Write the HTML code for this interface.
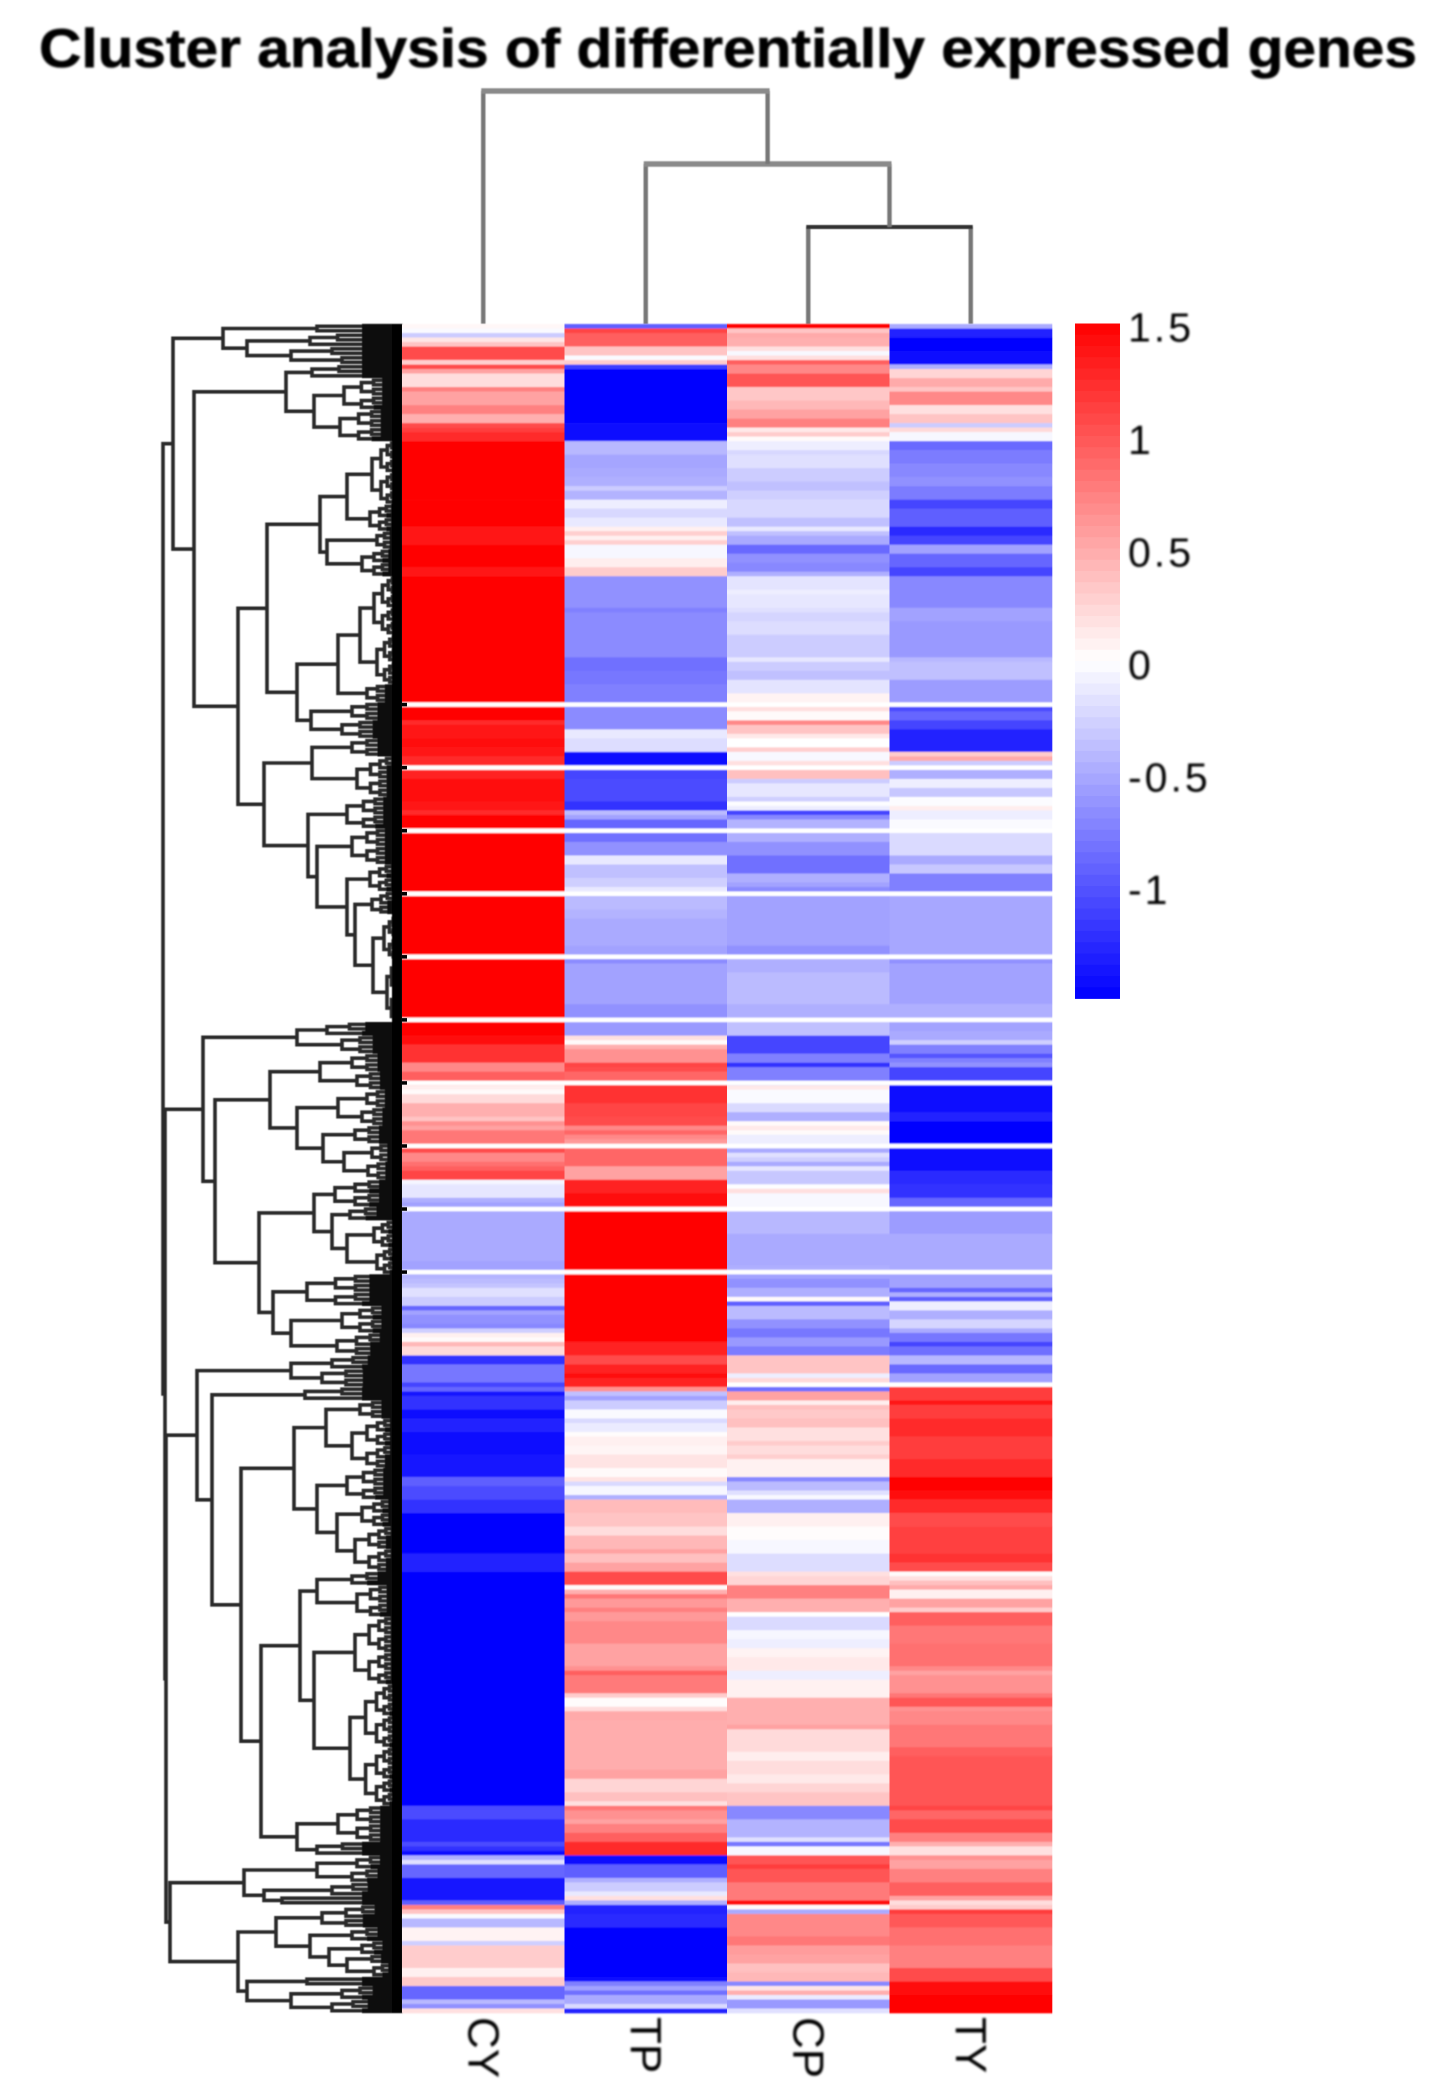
<!DOCTYPE html>
<html lang="en">
<head>
<meta charset="utf-8">
<title>Cluster analysis of differentially expressed genes</title>
<style>
html,body{margin:0;padding:0;background:#fff;}
svg{display:block;font-family:"Liberation Sans",sans-serif;}
</style>
</head>
<body>
<svg id="chart" xmlns="http://www.w3.org/2000/svg" width="1450" height="2093" viewBox="0 0 1450 2093">
  <defs>
    <filter id="soft" x="-2%" y="-5%" width="104%" height="110%"><feGaussianBlur stdDeviation="1"/></filter>
    <filter id="softer" x="-2%" y="-2%" width="104%" height="104%"><feGaussianBlur stdDeviation="0.6"/></filter>
    <filter id="bandblur" x="-1%" y="-1%" width="102%" height="102%"><feGaussianBlur stdDeviation="0 0.8"/></filter>
  </defs>
  <rect x="0" y="0" width="1450" height="2093" fill="#fff"/>
  <text x="39" y="67" font-size="55" font-weight="700" fill="#000" stroke="#000" stroke-width="0.6" textLength="1378" lengthAdjust="spacingAndGlyphs" filter="url(#soft)">Cluster analysis of differentially expressed genes</text>
  <g id="column-dendrogram" filter="url(#softer)"></g>
  <g id="row-dendrogram" filter="url(#softer)"></g>
  <g id="heatmap" filter="url(#bandblur)"></g>
  <g id="heatmap-ticks"></g>
  <g id="column-labels" filter="url(#soft)"></g>
  <g id="colorbar"></g>
  <g id="colorbar-labels" filter="url(#soft)"></g>
</svg>
<script>
const categories = ['CY', 'TP', 'CP', 'TY'];
const legendTicks = ['1.5', '1', '0.5', '0', '-0.5', '-1'];
const legendTickValues = [1.5, 1, 0.5, 0, -0.5, -1];
const missingRows = [84, 98, 112, 126, 140, 154, 168, 182, 196, 210];
const rowCount = 375;

/* each pair is [first row of the band, scaled expression value] */
const cySegments = [[0,.05],[1,-.03],[2,-.3],[3,.15],[4,.35],[5,1.05],[8,.28],[9,1.05],[10,.55],[11,.2],[14,.75],[15,.55],[18,.75],[20,.47],[22,1.05],[23,1.15],[24,1.25],[26,1.5],[39,1.47],[45,1.35],[49,1.5],[52,1.47],[54,1.38],[56,1.5],[88,1.25],[89,1.35],[92,1.4],[94,1.35],[96,1.25],[99,1.3],[101,1.44],[106,1.35],[108,1.25],[109,1.5],[158,1.4],[160,1.2],[164,.7],[166,.95],[169,.1],[170,.03],[171,.22],[173,.47],[176,.35],[177,.65],[178,.55],[179,.8],[183,1.05],[184,.7],[186,.85],[187,.95],[188,1.1],[190,-.06],[191,-.15],[194,-.47],[195,-.55],[197,-.5],[208,-.55],[211,-.45],[212,-.4],[213,-.35],[214,-.18],[216,-.3],[218,-.9],[219,-.55],[220,-.65],[222,-.7],[223,-.28],[224,.09],[225,.03],[226,.42],[227,.22],[229,-1.2],[231,-.8],[235,-1.1],[236,-.9],[237,-1.35],[238,-1.2],[241,-1.4],[243,-1.3],[246,-1.4],[251,-1.35],[256,-.95],[258,-1.05],[261,-1.2],[264,-1.47],[273,-1.3],[277,-1.5],[329,-1.05],[332,-1.25],[337,-1.05],[338,-1.2],[339,-1.4],[340,-.47],[341,-.18],[342,-.9],[345,-1.35],[350,-.95],[351,.75],[352,.35],[353,-.03],[354,-.42],[356,.07],[359,-.28],[360,.3],[365,.09],[367,.32],[369,-.9],[372,-.42],[373,-.65],[374,.18]];

const tpSegments = [[0,-.95],[1,1.1],[2,.95],[5,.35],[7,-.03],[8,.3],[9,-1.15],[10,-1.5],[22,-1.4],[26,-.42],[29,-.53],[32,-.5],[34,-.47],[36,-.3],[37,-.45],[39,-.1],[41,-.23],[43,-.13],[45,.09],[46,.28],[47,.09],[48,.28],[49,-.05],[52,.1],[54,.3],[56,-.65],[63,-.75],[64,-.68],[74,-.85],[77,-.8],[80,-.75],[85,-.68],[90,-.13],[92,-.2],[95,-1.4],[99,-1.1],[101,-1.05],[106,-1.2],[108,-.4],[109,-.55],[110,-.9],[113,-.85],[115,-.65],[118,-.13],[120,-.37],[123,-.28],[125,-.13],[127,-.4],[130,-.45],[132,-.5],[138,-.55],[141,-.68],[142,-.55],[151,-.65],[155,-.6],[158,.18],[159,.03],[160,.47],[161,.65],[164,1.1],[165,1.05],[166,.9],[169,1.2],[173,1.1],[176,1.05],[178,.7],[179,.9],[180,.7],[181,.6],[183,.9],[187,.55],[190,1.3],[193,1.45],[197,1.5],[226,1.3],[229,1.05],[231,1.3],[233,1.45],[234,1.3],[236,.65],[237,-.37],[238,-.55],[239,-.3],[241,-.03],[243,-.22],[244,-.12],[246,.02],[247,.09],[249,.06],[251,.16],[254,.03],[256,.16],[257,-.22],[258,-.05],[260,-.47],[261,.4],[264,.35],[267,.2],[269,.42],[272,.55],[273,.37],[275,.55],[277,1.05],[280,.03],[281,.47],[282,.8],[283,.6],[285,.75],[286,.6],[288,.7],[293,.55],[298,.65],[299,.95],[300,.78],[304,.3],[305,.02],[307,.2],[308,.5],[310,.48],[321,.55],[323,.25],[326,.37],[328,.18],[329,.8],[330,.65],[332,.55],[333,.75],[335,.95],[337,1.25],[340,-1.4],[342,-.95],[345,-.47],[346,-.3],[348,-.13],[349,.18],[350,-.47],[351,-1.3],[353,-1.25],[356,-1.5],[367,-1.4],[368,-.75],[369,-.55],[370,-.85],[371,-.5],[373,-.22],[374,-1.3]];

const cpSegments = [[0,1.5],[1,.35],[2,.5],[3,.47],[5,.18],[6,-.04],[7,.18],[8,.95],[9,.7],[11,1.0],[14,.33],[17,.42],[19,.55],[21,.75],[23,.13],[24,.3],[25,.03],[26,-.1],[28,-.23],[29,-.18],[32,-.3],[35,-.37],[37,-.28],[39,-.23],[43,-.37],[45,-.13],[46,-.37],[47,-.5],[49,-.88],[51,-.65],[53,-.7],[55,-.47],[56,-.16],[59,-.1],[60,-.14],[63,-.18],[64,-.25],[66,-.2],[69,-.3],[74,-.14],[75,-.3],[77,-.37],[79,-.16],[82,.07],[85,.18],[86,.03],[88,.7],[89,.35],[91,.13],[92,0],[94,.28],[95,-.04],[97,.18],[99,.37],[101,-.3],[102,-.14],[105,-.28],[106,-.01],[107,-.1],[108,-1.1],[109,-.7],[110,-.45],[113,-.47],[115,-.65],[118,-.85],[122,-.47],[124,-.55],[125,-.68],[127,-.55],[138,-.65],[141,-.47],[144,-.4],[151,-.47],[155,-.37],[158,-1.1],[162,-.75],[164,-1.2],[165,-.75],[169,.13],[170,-.03],[173,-.22],[175,-.47],[177,.03],[178,.13],[179,.03],[180,-.1],[183,-.5],[184,-.18],[185,-.28],[186,-.5],[187,-.14],[188,-.33],[191,-.01],[192,.18],[193,-.04],[197,-.42],[202,-.5],[209,-.47],[211,-.55],[212,-.65],[214,-.47],[216,.03],[217,-.95],[218,-.4],[221,-.65],[223,-.8],[225,-.6],[227,-.77],[229,.35],[233,-.1],[234,.22],[235,0],[236,-.85],[237,.55],[239,.1],[240,.37],[241,.32],[243,.37],[245,.18],[248,.3],[249,.2],[251,.28],[252,.08],[256,-.7],[257,-.4],[259,-.18],[260,-.04],[261,-.47],[264,.09],[267,.02],[270,-.05],[273,-.2],[277,.18],[278,.25],[280,.75],[283,.47],[286,0],[287,-.22],[290,-.05],[292,-.1],[294,.07],[296,.13],[299,-.1],[301,.08],[305,.47],[311,.55],[312,.22],[317,.1],[319,.2],[322,.13],[324,.25],[326,.35],[329,-.7],[332,-.45],[336,-.18],[337,-.8],[338,-.04],[340,1.0],[342,1.15],[343,1.0],[346,.78],[350,1.4],[351,.03],[352,-.5],[353,.7],[358,.8],[360,.58],[362,.55],[364,.37],[366,.42],[368,-.7],[369,.15],[370,.47],[371,-.12],[372,-.6],[374,-.18]];

const tySegments = [[0,-.5],[1,-1.3],[3,-1.5],[6,-1.4],[9,-.47],[10,.25],[12,.5],[14,.35],[15,.7],[18,.18],[20,.35],[22,-.3],[23,.22],[24,-.05],[26,-.88],[28,-.77],[31,-.7],[34,-.65],[36,-.77],[39,-1.1],[41,-.95],[45,-1.25],[47,-1.1],[49,-.55],[51,-.9],[54,-1.1],[56,-.7],[63,-.55],[66,-.6],[74,-.42],[75,-.37],[79,-.58],[85,-1.05],[86,-.9],[88,-1.1],[90,-1.3],[95,.3],[96,.5],[97,-.3],[99,-.47],[101,-.1],[103,-.33],[105,-.02],[107,.1],[108,-.1],[110,-.03],[113,-.22],[118,-.5],[120,-.33],[122,-.75],[127,-.52],[141,-.65],[142,-.55],[151,-.47],[155,-.55],[157,-.5],[159,-.28],[160,-.75],[162,-1.0],[163,-.75],[164,-.65],[165,-1.1],[169,-1.4],[175,-1.3],[177,-1.5],[183,-1.4],[188,-1.25],[191,-1.2],[194,-.9],[197,-.58],[202,-.5],[211,-.55],[214,-.9],[215,-.47],[216,-.95],[217,-.1],[219,-.47],[221,-.25],[223,-.5],[224,-.8],[226,-1.1],[227,-.85],[229,-.42],[231,-.88],[233,-.55],[235,0],[236,1.15],[239,1.35],[240,1.15],[243,1.25],[247,1.15],[252,1.25],[256,1.5],[259,1.42],[261,1.25],[264,1.05],[267,1.12],[273,1.2],[275,1.05],[277,.03],[278,.18],[279,.37],[280,.5],[281,.09],[283,.55],[285,.3],[286,.95],[289,.8],[293,.85],[298,.7],[299,.55],[300,.65],[304,.8],[305,1.0],[307,.65],[308,.7],[311,.8],[316,.95],[318,1.0],[329,1.1],[330,.9],[332,1.05],[335,.75],[337,.47],[338,.18],[340,.65],[341,.55],[343,.75],[346,.95],[349,.55],[350,.2],[351,.3],[352,1.15],[353,.98],[356,.85],[360,.75],[365,1.05],[368,1.4],[371,1.5]];

const columnSegments = [cySegments, tpSegments, cpSegments, tySegments];

/* dendrogram: [height, left, right] is a merge, [height, count] a bundle of leaf rows */
const clusterA = [229,[179,[85,2],[155,[92,3],[111,[70,2],[60,2]]]],[208,[116,[90,3],[88,[58,7],[62,7]]],[164,[135,[82,[55,[30,14],[32,6]],[75,[25,4],[40,6]]],[105,[64,[42,[28,13],[25,11]],[35,4]],[91,[50,4],[60,4]]]],[138,[90,[50,4],[45,9]],[94,[55,7],[85,[50,8],[55,[32,6],[47,[30,5],[29,[18,10],[15,14]]]]]]]]]];
const clusterB = [199,[105,[75,3],[60,4]],[187,[132,[82,[50,4],[45,4]],[105,[64,[35,4],[40,4]],[79,[47,4],[58,[30,4],[34,4]]]]],[143,[88,[67,6],[70,[52,3],[55,[28,6],[25,6]]]],[129,[95,7],[111,[60,6],[65,5]]]]]];
const clusterC = [205,[111,[70,3],[80,4]],[190,[97,[60,2],[55,1]],[161,[108,[76,[42,4],[50,11]],[85,[55,7],[65,[40,6],[47,10]]]],[141,[102,[85,[50,3],[45,7]],[88,[47,15],[52,27]]],[105,[64,8],[85,3]]]]]];
const clusterD = [232,[158,[85,[45,3],[50,3]],[138,[70,3],[120,2]]],[164,[126,[80,5],[92,[50,3],[73,[40,3],[55,[30,2],[28,3]]]]],[155,[95,2],[111,[60,3],[70,3]]]]];
const rowTree = [239,clusterA,[237,clusterB,[236,clusterC,clusterD]]];
/* column dendrogram: [height, left, right] with leaf column indices */
const columnTree = [233,0,[160,1,[97,2,3]]];

const NS = 'http://www.w3.org/2000/svg';
const heatLeft = 402, heatRight = 1052, heatTop = 324, heatBottom = 2013;
const colWidth = (heatRight - heatLeft) / categories.length;
const rowHeight = (heatBottom - heatTop) / rowCount;
const xCol = c => heatLeft + c * colWidth;
const yRow = r => heatTop + r * rowHeight;
const xHeight = h => heatLeft - h;
const yColHeight = h => heatTop - h;
const legendY = v => 664 - 225 * v;

function valueColor(v) {
  const t = Math.max(-1, Math.min(1, v / 1.5));
  const k = Math.round(255 * (1 - Math.abs(t)));
  return t >= 0 ? `rgb(255,${k},${k})` : `rgb(${k},${k},255)`;
}

const heatG = document.getElementById('heatmap');
const tickG = document.getElementById('heatmap-ticks');
columnSegments.forEach((segs, c) => {
  segs.forEach((seg, i) => {
    const end = i + 1 < segs.length ? segs[i + 1][0] : rowCount;
    const el = document.createElementNS(NS, 'rect');
    
    
    el.setAttribute('x', xCol(c));
    el.setAttribute('y', yRow(seg[0]));
    el.setAttribute('width', colWidth + 0.3);
    el.setAttribute('height', (end - seg[0]) * rowHeight + 0.3);
    el.setAttribute('fill', valueColor(seg[1]));
    heatG.appendChild(el);
  });
});
missingRows.forEach(r => {
  const gap = document.createElementNS(NS, 'rect');
  
  
  gap.setAttribute('x', heatLeft);
  gap.setAttribute('y', yRow(r));
  gap.setAttribute('width', heatRight - heatLeft + 1);
  gap.setAttribute('height', rowHeight);
  gap.setAttribute('fill', '#fff');
  heatG.appendChild(gap);
  const tick = document.createElementNS(NS, 'rect');
  
  
  tick.setAttribute('x', heatLeft);
  tick.setAttribute('y', yRow(r) + 0.5);
  tick.setAttribute('width', 5);
  tick.setAttribute('height', rowHeight - 1);
  tick.setAttribute('fill', '#000');
  tickG.appendChild(tick);
});

/* row dendrogram */
let nextRow = 0;
let treePath = '';
let leafPath = '';
function link(h, a, b) {
  const x = xHeight(h);
  treePath += `M${xHeight(a.h)} ${a.y}H${x}V${b.y}H${xHeight(b.h)}`;
}
function walkBundle(n, h) {
  if (n <= 1) {
    const y = yRow(nextRow) + rowHeight / 2;
    nextRow++;
    leafPath += `M${xHeight(Math.min(h, 40))} ${y}H${heatLeft}`;
    return { y: y, h: 0 };
  }
  const a = Math.ceil(n / 2);
  const l = walkBundle(a, h * 0.7);
  const r = walkBundle(n - a, h * 0.7);
  link(h, l, r);
  return { y: (l.y + r.y) / 2, h: h };
}
function walkTree(node) {
  if (node.length === 2) return walkBundle(node[1], node[0]);
  const l = walkTree(node[1]);
  const r = walkTree(node[2]);
  link(node[0], l, r);
  return { y: (l.y + r.y) / 2, h: node[0] };
}
walkTree(rowTree);
const rowG = document.getElementById('row-dendrogram');
const treeEl = document.createElementNS(NS, 'path');


treeEl.setAttribute('d', treePath);
treeEl.setAttribute('fill', 'none');
treeEl.setAttribute('stroke', '#2a2a2a');
treeEl.setAttribute('stroke-width', '3.6');
rowG.appendChild(treeEl);
const leafEl = document.createElementNS(NS, 'path');


leafEl.setAttribute('d', leafPath);
leafEl.setAttribute('fill', 'none');
leafEl.setAttribute('stroke', '#111');
leafEl.setAttribute('stroke-width', '4.7');
rowG.appendChild(leafEl);
const massEl = document.createElementNS(NS, 'rect');


massEl.setAttribute('x', heatLeft - 10);
massEl.setAttribute('y', heatTop);
massEl.setAttribute('width', 10.6);
massEl.setAttribute('height', heatBottom - heatTop);
massEl.setAttribute('fill', '#000');
rowG.appendChild(massEl);

/* column dendrogram */
const colG = document.getElementById('column-dendrogram');
function walkCols(node) {
  if (typeof node === 'number') return { x: xCol(node) + colWidth / 2, h: 0 };
  const l = walkCols(node[1]);
  const r = walkCols(node[2]);
  const y = yColHeight(node[0]);
  const legs = document.createElementNS(NS, 'path');
  
  
  legs.setAttribute('d', `M${l.x} ${yColHeight(l.h)}V${y}M${r.x} ${y}V${yColHeight(r.h)}`);
  legs.setAttribute('fill', 'none');
  legs.setAttribute('stroke', '#777');
  legs.setAttribute('stroke-width', '4.4');
  colG.appendChild(legs);
  const bar = document.createElementNS(NS, 'path');
  
  
  bar.setAttribute('d', `M${l.x - 2} ${y}H${r.x + 2}`);
  bar.setAttribute('fill', 'none');
  bar.setAttribute('stroke', node[0] > 100 ? '#8a8a8a' : '#333');
  bar.setAttribute('stroke-width', node[0] > 100 ? '5.5' : '4');
  colG.appendChild(bar);
  return { x: (l.x + r.x) / 2, h: node[0] };
}
walkCols(columnTree);

/* column labels */
const labelG = document.getElementById('column-labels');
categories.forEach((name, c) => {
  const cx = xCol(c) + colWidth / 2;
  const t = document.createElementNS(NS, 'text');
  
  
  t.setAttribute('transform', `translate(${cx - 15},2017) rotate(90)`);
  t.setAttribute('font-size', '44');
  t.setAttribute('fill', '#000');
  t.textContent = name;
  labelG.appendChild(t);
});

/* colour legend */
const barG = document.getElementById('colorbar');
for (let v = 1.5; v > -1.5; v -= 0.05) {
  const s = document.createElementNS(NS, 'rect');
  
  
  s.setAttribute('x', 1075);
  s.setAttribute('y', legendY(v) - 3);
  s.setAttribute('width', 45);
  s.setAttribute('height', 225 * 0.05 + 0.4);
  s.setAttribute('fill', valueColor(v - 0.025));
  barG.appendChild(s);
}
const barLabelG = document.getElementById('colorbar-labels');
legendTicks.forEach((txt, i) => {
  const t = document.createElementNS(NS, 'text');
  
  
  t.setAttribute('x', 1128);
  t.setAttribute('y', legendY(legendTickValues[i]) + 15);
  t.setAttribute('font-size', '41');
  t.setAttribute('letter-spacing', '3');
  t.setAttribute('fill', '#000');
  t.textContent = txt;
  barLabelG.appendChild(t);
});
</script>
</body>
</html>
